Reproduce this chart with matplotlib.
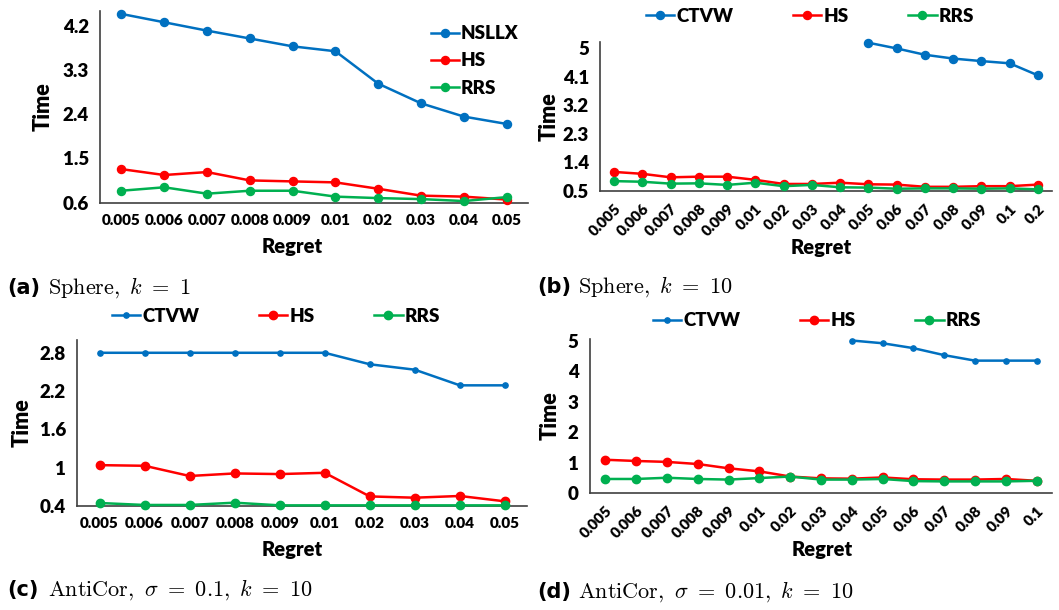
import numpy as np
import matplotlib
matplotlib.use("Agg")
import matplotlib.pyplot as plt

plt.rcParams['font.family'] = ['Lato', 'DejaVu Sans']
plt.rcParams['mathtext.fontset'] = 'cm'

nan = np.nan
BLUE, RED, GREEN = '#0070C0', '#FF0000', '#00B050'
W = 'heavy'

# (a) Sphere, k=1
reg_a = ['0.005', '0.006', '0.007', '0.008', '0.009', '0.01', '0.02', '0.03', '0.04', '0.05']
nsllx_a = [4.44, 4.27, 4.10, 3.94, 3.78, 3.68, 3.02, 2.62, 2.35, 2.20]
hs_a = [1.28, 1.16, 1.22, 1.05, 1.03, 1.01, 0.88, 0.74, 0.72, 0.66]
rrs_a = [0.84, 0.91, 0.78, 0.84, 0.84, 0.72, 0.69, 0.67, 0.63, 0.71]

# (b) Sphere, k=10
reg_b = ['0.005', '0.006', '0.007', '0.008', '0.009', '0.01', '0.02', '0.03', '0.04',
         '0.05', '0.06', '0.07', '0.08', '0.09', '0.1', '0.2']
ctvw_b = [nan] * 9 + [5.18, 5.00, 4.80, 4.68, 4.60, 4.53, 4.15]
hs_b = [1.10, 1.04, 0.93, 0.95, 0.95, 0.85, 0.72, 0.72, 0.76, 0.71, 0.70, 0.63, 0.63, 0.65, 0.65, 0.70]
rrs_b = [0.81, 0.79, 0.73, 0.74, 0.69, 0.76, 0.65, 0.69, 0.615, 0.605, 0.57, 0.58, 0.58, 0.57, 0.58, 0.55]

# (c) AntiCor, sigma=0.1, k=10
reg_c = reg_a
ctvw_c = [2.80, 2.80, 2.80, 2.80, 2.80, 2.80, 2.62, 2.535, 2.29, 2.29]
hs_c = [1.04, 1.03, 0.87, 0.91, 0.90, 0.92, 0.55, 0.53, 0.557, 0.473]
rrs_c = [0.447, 0.416, 0.416, 0.452, 0.41, 0.41, 0.41, 0.41, 0.41, 0.41]

# (d) AntiCor, sigma=0.01, k=10
reg_d = ['0.005', '0.006', '0.007', '0.008', '0.009', '0.01', '0.02', '0.03', '0.04',
         '0.05', '0.06', '0.07', '0.08', '0.09', '0.1']
ctvw_d = [nan] * 8 + [5.00, 4.91, 4.75, 4.52, 4.34, 4.34, 4.34]
hs_d = [1.09, 1.05, 1.02, 0.95, 0.81, 0.71, 0.54, 0.48, 0.47, 0.51, 0.45, 0.44, 0.44, 0.46, 0.40]
rrs_d = [0.46, 0.46, 0.50, 0.46, 0.44, 0.49, 0.54, 0.44, 0.44, 0.46, 0.39, 0.38, 0.38, 0.38, 0.40]

fig = plt.figure(figsize=(10.59, 6.10), dpi=100)


def panel(rect, cats, series, ylim, yticks, ylabels, rot, ylab_x, xlab_xy):
    ax = fig.add_axes(rect)
    x = np.arange(len(cats))
    for vals, color, name, ms in series:
        ax.plot(x, vals, color=color, lw=1.8, marker='o', ms=ms, label=name, clip_on=False, zorder=3)
    ax.set_xlim(-0.5, len(cats) - 0.5)
    ax.set_ylim(*ylim)
    ax.set_yticks(yticks)
    ax.set_yticklabels(ylabels, fontsize=13.5, fontweight=W)
    ax.set_xticks(x)
    if rot:
        ax.set_xticklabels(cats, fontsize=11, fontweight=W, rotation=45,
                           ha='right', rotation_mode='anchor')
    else:
        ax.set_xticklabels(cats, fontsize=11, fontweight=W)
    ax.tick_params(length=0, pad=8)
    for s in ['top', 'right']:
        ax.spines[s].set_visible(False)
    for s in ['left', 'bottom']:
        ax.spines[s].set_color('#404040')
        ax.spines[s].set_linewidth(1.2)
    ax.set_ylabel('Time', fontsize=15.5, fontweight=W)
    ax.yaxis.set_label_coords(ylab_x, 0.5)
    ax.set_xlabel('Regret', fontsize=14.5, fontweight=W)
    ax.xaxis.set_label_coords(*xlab_xy)
    return ax


leg_kw = dict(frameon=False, prop={'weight': W, 'size': 13.5}, handlelength=1.5, handletextpad=0.1)

ax_a = panel([0.0944, 0.668, 0.4042, 0.314], reg_a,
             [(nsllx_a, BLUE, 'NSLLX', 5.8), (hs_a, RED, 'HS', 5.8), (rrs_a, GREEN, 'RRS', 5.8)],
             (0.6, 4.5), [0.6, 1.5, 2.4, 3.3, 4.2], ['0.6', '1.5', '2.4', '3.3', '4.2'],
             False, -0.109, (0.45, -0.18))
ax_a.legend(loc='upper right', bbox_to_anchor=(0.995, 0.965), labelspacing=0.55, borderaxespad=0, **leg_kw)

ax_b = panel([0.5666, 0.687, 0.4268, 0.244], reg_b,
             [(ctvw_b, BLUE, 'CTVW', 5.8), (hs_b, RED, 'HS', 5.8), (rrs_b, GREEN, 'RRS', 5.8)],
             (0.5, 5.2), [0.5, 1.4, 2.3, 3.2, 4.1, 5], ['0.5', '1.4', '2.3', '3.2', '4.1', '5'],
             True, -0.090, (0.49, -0.315))
fig.legend(*ax_b.get_legend_handles_labels(), loc='center', bbox_to_anchor=(810 / 1059, 1 - 16 / 610),
           ncol=3, columnspacing=3.2, **leg_kw)

ax_c = panel([0.0727, 0.1705, 0.4253, 0.2721], reg_c,
             [(ctvw_c, BLUE, 'CTVW', 3.8), (hs_c, RED, 'HS', 6), (rrs_c, GREEN, 'RRS', 6)],
             (0.4, 3.0), [0.4, 1.0, 1.6, 2.2, 2.8], ['0.4', '1', '1.6', '2.2', '2.8'],
             False, -0.098, (0.477, -0.205))
fig.legend(*ax_c.get_legend_handles_labels(), loc='center', bbox_to_anchor=(276 / 1059, 1 - 316 / 610),
           ncol=3, columnspacing=3.2, **leg_kw)

ax_d = panel([0.557, 0.1918, 0.4364, 0.2525], reg_d,
             [(ctvw_d, BLUE, 'CTVW', 3.8), (hs_d, RED, 'HS', 6), (rrs_d, GREEN, 'RRS', 6)],
             (0, 5.05), [0, 1, 2, 3, 4, 5], ['0', '1', '2', '3', '4', '5'],
             True, -0.063, (0.502, -0.305))
fig.legend(*ax_d.get_legend_handles_labels(), loc='center', bbox_to_anchor=(817 / 1059, 1 - 321 / 610),
           ncol=3, columnspacing=3.2, **leg_kw)

captions = [
    (7, 288, '(a)', r'$\mathrm{Sphere,}\ k\ =\ 1$'),
    (537, 287, '(b)', r'$\mathrm{Sphere,}\ k\ =\ 10$'),
    (7, 590, '(c)', r'$\mathrm{AntiCor,}\ \sigma\ =\ 0.1,\ k\ =\ 10$'),
    (537, 592, '(d)', r'$\mathrm{AntiCor,}\ \sigma\ =\ 0.01,\ k\ =\ 10$'),
]
for cx, cy, tag, txt in captions:
    fig.text(cx / 1059, 1 - cy / 610, tag, fontsize=15, fontweight='bold',
             family='DejaVu Sans', va='center', ha='left')
    fig.text((cx + 41) / 1059, 1 - cy / 610, txt, fontsize=16, va='center', ha='left')

fig.savefig('out.png', dpi=100)
